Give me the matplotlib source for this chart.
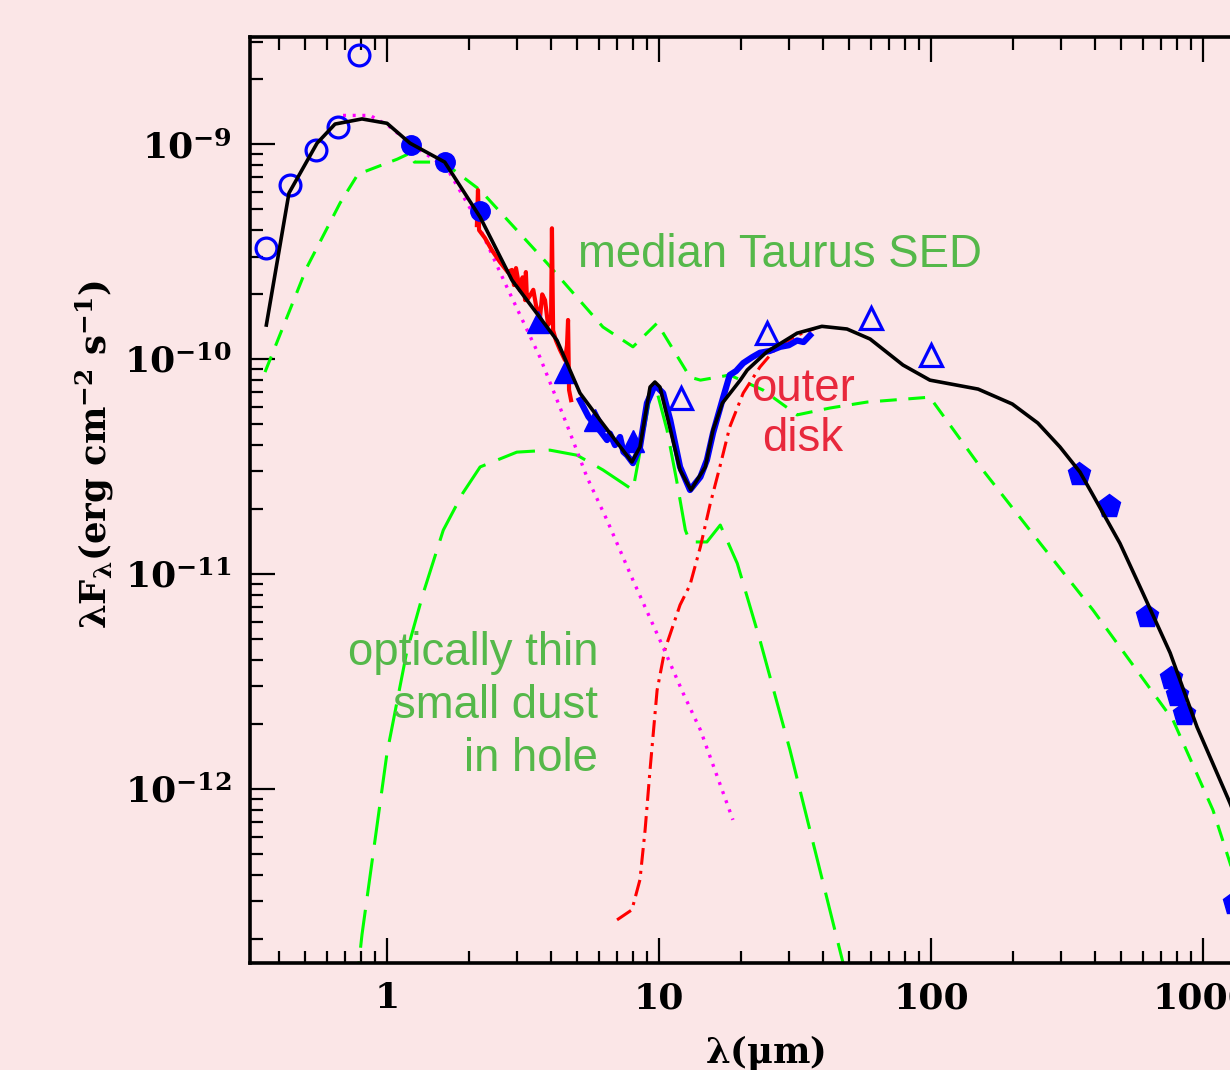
import numpy as np
import matplotlib
matplotlib.use("Agg")
import matplotlib.pyplot as plt
from matplotlib.ticker import FixedLocator, LogLocator, NullFormatter, FuncFormatter

# photometry (wavelength um, lambda F_lambda erg cm^-2 s^-1)
opt_wl = [0.36, 0.44, 0.55, 0.66, 0.79]
opt_fl = [3.28e-10, 6.44e-10, 9.4e-10, 1.2e-9, 2.6e-9]
nir_wl = [1.22, 1.63, 2.2]
nir_fl = [9.9e-10, 8.3e-10, 4.9e-10]
irac_wl = [3.6, 4.5, 5.8, 8.0]
irac_fl = [1.49e-10, 8.7e-11, 5.2e-11, 4.16e-11]
iras_wl = [12, 25, 60, 100]
iras_fl = [6.6e-11, 1.32e-10, 1.55e-10, 1.04e-10]
mm_wl = [350, 450, 620, 760, 800, 850, 1300]
mm_fl = [2.92e-11, 2.07e-11, 6.4e-12, 3.28e-12, 2.73e-12, 2.23e-12, 2.95e-13]

# total model
model_wl = [0.36, 0.436, 0.553, 0.644, 0.809, 1.0, 1.215, 1.63, 2.2, 2.88, 4.22, 5.12, 6.07,
            7.95, 8.51, 9.27, 9.66, 10.08, 10.8, 11.95, 13.1, 14.8, 15.8, 17.1, 19.9,
            21.1, 24.9, 32.2, 39.7, 49.1, 59.7, 78.9, 99.1, 149, 199, 247, 298, 353,
            394, 495, 601, 757, 951, 1257, 1620]
model_fl = [1.44e-10, 5.92e-10, 1.01e-9, 1.24e-9, 1.31e-9, 1.25e-9, 1.01e-9, 8.25e-10,
            4.57e-10, 2.33e-10, 1.22e-10, 6.95e-11, 5.2e-11, 3.32e-11, 3.9e-11, 7.41e-11,
            7.82e-11, 7.41e-11, 5.2e-11, 3.05e-11, 2.46e-11, 3.15e-11, 4.68e-11, 6.24e-11,
            7.98e-11, 8.89e-11, 1.08e-10, 1.32e-10, 1.42e-10, 1.38e-10, 1.24e-10, 9.38e-11,
            7.98e-11, 7.25e-11, 6.18e-11, 5.04e-11, 3.9e-11, 2.98e-11, 2.33e-11, 1.39e-11,
            8.16e-12, 4.3e-12, 1.94e-12, 8.6e-13, 3.78e-13]

# stellar photosphere
star_wl = [0.689, 0.866, 1.01, 1.215, 1.66, 2.07, 2.76, 3.65, 4.6, 5.43, 6.44, 8.02,
           10.35, 12.25, 14.2, 18.7]
star_fl = [1.36e-9, 1.36e-9, 1.22e-9, 1.01e-9, 7.73e-10, 4.77e-10, 2.16e-10, 1.02e-10,
           4.9e-11, 2.83e-11, 1.78e-11, 9.37e-12, 4.57e-12, 2.8e-12, 1.88e-12, 7.18e-13]

# median Taurus SED
taurus_wl = [0.356, 0.508, 0.672, 0.782, 1.09, 1.215, 1.26, 1.61, 2.2, 3.87, 6.22, 8.02,
             9.84, 13.0, 14.2, 18.2, 24.1, 32.2, 42.5, 58.2, 99, 151, 252, 394, 776,
             1088, 1257, 1620]
taurus_fl = [8.7e-11, 2.68e-10, 5.32e-10, 7.25e-10, 8.51e-10, 9.08e-10, 8.25e-10,
             8.25e-10, 6.11e-10, 2.8e-10, 1.41e-10, 1.14e-10, 1.47e-10, 8.24e-11,
             7.98e-11, 8.43e-11, 7.18e-11, 5.5e-11, 5.92e-11, 6.31e-11, 6.65e-11,
             3.18e-11, 1.39e-11, 6.8e-12, 2.09e-12, 7.98e-13, 4.53e-13, 1.6e-13]

# optically thin small dust in hole
thin_wl = [0.762, 0.809, 1.0, 1.18, 1.36, 1.61, 1.90, 2.2, 3.0, 3.97, 5.0, 6.22, 8.02,
           9.27, 9.75, 10.7, 11.6, 12.5, 13.0, 15.0, 16.8, 19.4, 23.5, 30.3, 47.5, 50.2]
thin_fl = [1.05e-13, 2.1e-13, 1.47e-12, 4.3e-12, 8.17e-12, 1.6e-11, 2.38e-11, 3.15e-11,
           3.69e-11, 3.77e-11, 3.57e-11, 3.05e-11, 2.46e-11, 6.65e-11, 7.33e-11,
           4.68e-11, 2.74e-11, 1.6e-11, 1.41e-11, 1.41e-11, 1.69e-11, 1.12e-11,
           4.93e-12, 1.52e-12, 1.55e-13, 1.05e-13]

# outer disk
outer_wl = [7.01, 7.95, 8.51, 8.89, 9.27, 9.84, 10.5, 11.95, 13.0, 14.2, 15.4, 16.8,
            18.2, 20.4, 23.5, 27.2, 32.2, 37.5]
outer_fl = [2.46e-13, 2.74e-13, 3.78e-13, 6.45e-13, 1.23e-12, 2.88e-12, 4.43e-12,
            7.18e-12, 8.89e-12, 1.34e-11, 2.1e-11, 3.21e-11, 4.83e-11, 6.95e-11,
            9.18e-11, 1.14e-10, 1.29e-10, 1.39e-10]

# IRS spectrum
irs_wl = [5.12, 5.5, 5.82, 6.1, 6.44, 6.6, 6.89, 7.19, 7.4, 7.63, 8.02, 8.51, 9.03, 9.66,
          10.35, 11.0, 11.95, 13.0, 14.2, 15.0, 15.8, 17.1, 18.2, 19.2, 20.4, 22.0, 23.5,
          25.5, 27.9, 30.0, 32.2, 34.0, 35.9]
irs_fl = [6.44e-11, 5.4e-11, 4.93e-11, 4.6e-11, 4.2e-11, 4.5e-11, 3.98e-11, 4.34e-11,
          3.7e-11, 3.57e-11, 3.28e-11, 3.9e-11, 6.24e-11, 7.57e-11, 6.95e-11, 5.2e-11,
          3.15e-11, 2.46e-11, 2.83e-11, 3.39e-11, 4.53e-11, 6.44e-11, 8.43e-11,
          8.8e-11, 9.58e-11, 1.02e-10, 1.07e-10, 1.09e-10, 1.14e-10, 1.16e-10,
          1.22e-10, 1.2e-10, 1.29e-10]

# near-IR spectrum
nirs_wl = [2.14, 2.16, 2.18, 2.29, 2.43, 2.60, 2.78, 2.88, 2.93, 2.98, 3.08, 3.15, 3.22,
           3.24, 3.27, 3.36, 3.45, 3.53, 3.65, 3.72, 3.81, 3.91, 4.01, 4.04, 4.08, 4.18,
           4.33, 4.51, 4.59, 4.63, 4.67, 4.75]
nirs_fl = [4.2e-10, 6.11e-10, 3.98e-10, 3.66e-10, 3.21e-10, 2.83e-10, 2.54e-10, 2.6e-10,
           2.21e-10, 2.65e-10, 2.09e-10, 2.4e-10, 1.88e-10, 2.54e-10, 1.88e-10,
           1.98e-10, 2.1e-10, 1.78e-10, 1.55e-10, 2.0e-10, 1.88e-10, 1.44e-10, 1.52e-10,
           4.06e-10, 1.36e-10, 1.22e-10, 1.1e-10, 9.89e-11, 1.16e-10, 1.52e-10,
           7.18e-11, 6.44e-11]

bg = "#fbe6e7"
plt.rcParams["font.family"] = "DejaVu Serif"
plt.rcParams["mathtext.fontset"] = "dejavuserif"
plt.rcParams["mathtext.default"] = "regular"

fig = plt.figure(figsize=(12.3, 10.7), dpi=100, facecolor=bg)
ax = fig.add_axes([0.2031, 0.1, 0.8415, 0.8654], facecolor=bg)
ax.set_xscale("log")
ax.set_yscale("log")

ax.plot(taurus_wl, taurus_fl, color="#00ff00", lw=2.2, dashes=(5.5, 3.8))
ax.plot(thin_wl, thin_fl, color="#00ff00", lw=2.2, dashes=(12.5, 4.5))
ax.plot(outer_wl, outer_fl, color="#ff0000", lw=2.2, dashes=(5.5, 2, 1, 2))
ax.plot(star_wl, star_fl, color="#ff00ff", lw=2.4, dashes=(0.9, 2.0))
ax.plot(nirs_wl, nirs_fl, color="#ff0000", lw=3.0)
ax.plot(irs_wl, irs_fl, color="#0000ff", lw=4.5)

ax.plot(opt_wl, opt_fl, "o", ms=15, mfc="none", mec="#0000ff", mew=2.3)
ax.plot(nir_wl, nir_fl, "o", ms=14, color="#0000ff")
ax.plot(irac_wl, irac_fl, "^", ms=16, color="#0000ff")
ax.plot(iras_wl, iras_fl, "^", ms=16, mfc="none", mec="#0000ff", mew=2.3)
ax.plot(mm_wl, mm_fl, "p", ms=17, color="#0000ff", clip_on=False)

ax.plot(model_wl, model_fl, color="black", lw=2.6)

ax.set_xlim(0.313, 2000)
ax.set_ylim(1.55e-13, 3.15e-9)

ax.xaxis.set_major_locator(FixedLocator([1, 10, 100, 1000]))
ax.xaxis.set_major_formatter(FuncFormatter(lambda v, p: "%d" % round(v)))
ax.xaxis.set_minor_locator(LogLocator(base=10, subs=np.arange(2, 10)))
ax.xaxis.set_minor_formatter(NullFormatter())
ax.yaxis.set_major_locator(FixedLocator([1e-12, 1e-11, 1e-10, 1e-9]))
ax.yaxis.set_major_formatter(FuncFormatter(
    lambda v, p: r"$\mathbf{10^{%d}}$" % round(np.log10(v))))
ax.yaxis.set_minor_locator(LogLocator(base=10, subs=np.arange(2, 10)))
ax.yaxis.set_minor_formatter(NullFormatter())

ax.tick_params(which="both", direction="in", top=True, right=True, width=1.6,
               colors="black")
ax.tick_params(which="major", length=18, labelsize=26, pad=13)
ax.tick_params(which="minor", length=9)
for lab in ax.get_xticklabels() + ax.get_yticklabels():
    lab.set_fontweight("bold")
for s in ax.spines.values():
    s.set_linewidth(2.6)

ax.text(5.04, 3.05e-10, "median Taurus SED", color="#55b84a", fontsize=32.8,
        family="Liberation Sans", ha="left", va="center")
ax.text(33.8, 5.55e-11, "outer\ndisk", color="#e8283c", fontsize=32.8,
        family="Liberation Sans", ha="center", va="center", linespacing=1.2)
ax.text(5.97, 2.43e-12, "optically thin\nsmall dust\nin hole", color="#55b84a",
        fontsize=32.8, family="Liberation Sans", ha="right", va="center",
        multialignment="right", linespacing=1.27)

fig.text(0.0772, 0.5748, r"$\lambda$F$_\lambda$(erg cm$^{-2}$ s$^{-1}$)", rotation=90,
         ha="center", va="center", fontsize=25.5, fontweight="bold")
fig.text(0.622, 0.016, r"$\lambda$($\mu$m)", ha="center", va="center",
         fontsize=25.5, fontweight="bold")

fig.savefig("out.png", dpi=100, facecolor=bg)
